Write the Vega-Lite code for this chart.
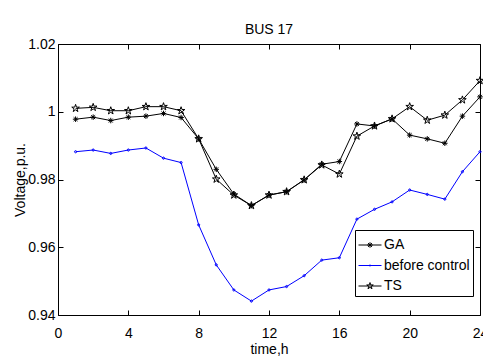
{
  "$schema": "https://vega.github.io/schema/vega-lite/v6.json",
  "width": 422,
  "height": 271,
  "autosize": {"type": "none"},
  "padding": {"left": 58, "top": 44, "right": 3, "bottom": 43},
  "background": "white",
  "title": {"text": "BUS 17", "fontSize": 14, "fontWeight": "normal", "font": "Liberation Sans", "color": "black", "offset": 4, "dy": 4},
  "config": {
    "view": {"stroke": null},
    "axis": {
      "domainColor": "black", "tickColor": "black", "labelColor": "black", "titleColor": "black",
      "labelFont": "Liberation Sans", "titleFont": "Liberation Sans",
      "labelFontSize": 14, "titleFontSize": 14, "titleFontWeight": "normal",
      "grid": false, "tickSize": -5, "domainWidth": 1, "tickWidth": 1
    },
    "legend": {
      "title": null, "orient": "none", "legendX": 297, "legendY": 186,
      "strokeColor": "black", "fillColor": "white", "padding": 3, "rowPadding": 1.5,
      "labelFont": "Liberation Sans", "labelFontSize": 14, "labelColor": "black", "labelOffset": 2, "labelLimit": 300,
      "symbolSize": 529, "symbolStrokeWidth": 1
    }
  },
  "data": {"values": [
    {"t":1,"s":"GA","v":0.9978},{"t":2,"s":"GA","v":0.9984},{"t":3,"s":"GA","v":0.9974},{"t":4,"s":"GA","v":0.9984},
    {"t":5,"s":"GA","v":0.9987},{"t":6,"s":"GA","v":0.9995},{"t":7,"s":"GA","v":0.9983},{"t":8,"s":"GA","v":0.9920},
    {"t":9,"s":"GA","v":0.9830},{"t":10,"s":"GA","v":0.9757},{"t":11,"s":"GA","v":0.9723},{"t":12,"s":"GA","v":0.9754},
    {"t":13,"s":"GA","v":0.9764},{"t":14,"s":"GA","v":0.9799},{"t":15,"s":"GA","v":0.9845},{"t":16,"s":"GA","v":0.9853},
    {"t":17,"s":"GA","v":0.9964},{"t":18,"s":"GA","v":0.9958},{"t":19,"s":"GA","v":0.9979},{"t":20,"s":"GA","v":0.9931},
    {"t":21,"s":"GA","v":0.9920},{"t":22,"s":"GA","v":0.9907},{"t":23,"s":"GA","v":0.9987},{"t":24,"s":"GA","v":1.0044},
    {"t":1,"s":"before control","v":0.9882},{"t":2,"s":"before control","v":0.9887},{"t":3,"s":"before control","v":0.9877},{"t":4,"s":"before control","v":0.9887},
    {"t":5,"s":"before control","v":0.9893},{"t":6,"s":"before control","v":0.9863},{"t":7,"s":"before control","v":0.9850},{"t":8,"s":"before control","v":0.9666},
    {"t":9,"s":"before control","v":0.9548},{"t":10,"s":"before control","v":0.9474},{"t":11,"s":"before control","v":0.9441},{"t":12,"s":"before control","v":0.9474},
    {"t":13,"s":"before control","v":0.9484},{"t":14,"s":"before control","v":0.9516},{"t":15,"s":"before control","v":0.9562},{"t":16,"s":"before control","v":0.9569},
    {"t":17,"s":"before control","v":0.9683},{"t":18,"s":"before control","v":0.9712},{"t":19,"s":"before control","v":0.9734},{"t":20,"s":"before control","v":0.9769},
    {"t":21,"s":"before control","v":0.9756},{"t":22,"s":"before control","v":0.9742},{"t":23,"s":"before control","v":0.9823},{"t":24,"s":"before control","v":0.9882},
    {"t":1,"s":"TS","v":1.0010},{"t":2,"s":"TS","v":1.0013},{"t":3,"s":"TS","v":1.0003},{"t":4,"s":"TS","v":1.0003},
    {"t":5,"s":"TS","v":1.0015},{"t":6,"s":"TS","v":1.0015},{"t":7,"s":"TS","v":1.0003},{"t":8,"s":"TS","v":0.9920},
    {"t":9,"s":"TS","v":0.9801},{"t":10,"s":"TS","v":0.9754},{"t":11,"s":"TS","v":0.9723},{"t":12,"s":"TS","v":0.9754},
    {"t":13,"s":"TS","v":0.9764},{"t":14,"s":"TS","v":0.9799},{"t":15,"s":"TS","v":0.9843},{"t":16,"s":"TS","v":0.9816},
    {"t":17,"s":"TS","v":0.9928},{"t":18,"s":"TS","v":0.9958},{"t":19,"s":"TS","v":0.9979},{"t":20,"s":"TS","v":1.0015},
    {"t":21,"s":"TS","v":0.9975},{"t":22,"s":"TS","v":0.9990},{"t":23,"s":"TS","v":1.0035},{"t":24,"s":"TS","v":1.0092}
  ]},
  "layer": [
    {
      "mark": {"type": "line", "strokeWidth": 1, "clip": false},
      "encoding": {
        "x": {"field": "t", "type": "quantitative", "scale": {"domain": [0, 24], "nice": false},
              "axis": {"orient": "bottom", "values": [0,4,8,12,16,20,24], "title": "time,h", "labelPadding": 16, "titleBaseline": "middle", "titleY": 34, "labelFlush": false}},
        "y": {"field": "v", "type": "quantitative", "scale": {"domain": [0.94, 1.02], "nice": false, "zero": false},
              "axis": {"orient": "left", "values": [0.94,0.96,0.98,1,1.02], "format": "~g", "title": "Voltage,p.u.", "labelPadding": 8, "titleBaseline": "middle", "titleX": -38}},
        "color": {"field": "s", "type": "nominal",
                  "scale": {"domain": ["GA", "before control", "TS"], "range": ["black", "#0000ff", "black"]},
                  "legend": {
                    "encode": {"symbols": {"update": {
                      "shape": {"signal": "datum.value === 'GA' ? 'M-1,0L1,0M-0.24,0L0.24,0M0,-0.24L0,0.24M-0.17,-0.17L0.17,0.17M-0.17,0.17L0.17,-0.17' : datum.value === 'TS' ? 'M-1,0L1,0M0,-0.3L0.067,-0.093L0.285,-0.093L0.109,0.035L0.176,0.243L0,0.115L-0.176,0.243L-0.109,0.035L-0.285,-0.093L-0.067,-0.093Z' : 'M-1,0L1,0M-0.06,0A0.06,0.06 0 1,0 0.06,0A0.06,0.06 0 1,0 -0.06,0Z'"},
                      "size": {"value": 529},
                      "strokeWidth": {"value": 1},
                      "fill": {"value": "transparent"},
                      "opacity": {"value": 1}
                    }}}
                  }},
        "detail": {"field": "s"}
      }
    },
    {
      "transform": [{"filter": "datum.s === 'GA'"}],
      "mark": {"type": "point", "filled": false, "strokeWidth": 1, "size": 100, "opacity": 1, "clip": false, "color": "black",
               "shape": "M-0.55,0L0.55,0M0,-0.55L0,0.55M-0.39,-0.39L0.39,0.39M-0.39,0.39L0.39,-0.39"},
      "encoding": {
        "x": {"field": "t", "type": "quantitative",
              "axis": {"orient": "top", "values": [0,4,8,12,16,20,24], "labels": false, "title": null}},
        "y": {"field": "v", "type": "quantitative",
              "axis": {"orient": "right", "values": [0.94,0.96,0.98,1,1.02], "labels": false, "title": null}}
      }
    },
    {
      "transform": [{"filter": "datum.s === 'before control'"}],
      "mark": {"type": "point", "filled": false, "strokeWidth": 1, "size": 100, "opacity": 1, "clip": false, "color": "#0000ff",
               "shape": "M-0.22,0A0.22,0.22 0 1,0 0.22,0A0.22,0.22 0 1,0 -0.22,0Z"},
      "encoding": {
        "x": {"field": "t", "type": "quantitative", "axis": null},
        "y": {"field": "v", "type": "quantitative", "axis": null}
      }
    },
    {
      "transform": [{"filter": "datum.s === 'TS'"}],
      "mark": {"type": "point", "filled": false, "strokeWidth": 1, "size": 100, "opacity": 1, "clip": false, "color": "black",
               "shape": "M0,-0.8L0.18,-0.247L0.761,-0.247L0.29,0.094L0.47,0.647L0,0.306L-0.47,0.647L-0.29,0.094L-0.761,-0.247L-0.18,-0.247Z"},
      "encoding": {
        "x": {"field": "t", "type": "quantitative", "axis": null},
        "y": {"field": "v", "type": "quantitative", "axis": null}
      }
    }
  ],
  "resolve": {"axis": {"x": "independent", "y": "independent"}}
}
